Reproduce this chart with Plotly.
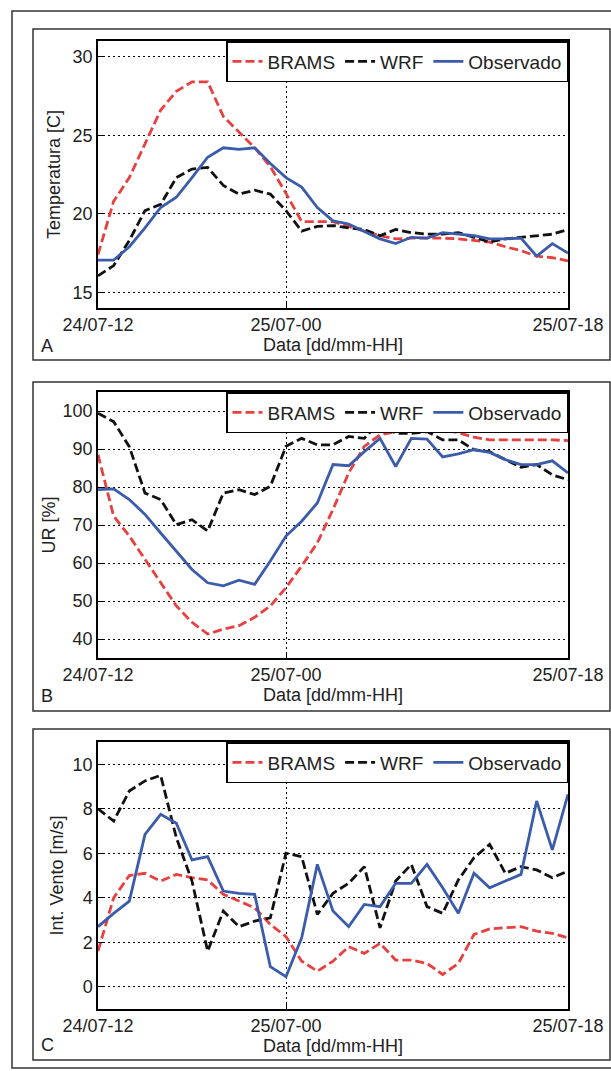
import plotly.graph_objects as go

# ---------------- data ----------------
hours = list(range(31))  # hours since 24/07-12
x_tickvals = [0, 12, 30]
x_ticktext = ["24/07-12", "25/07-00", "25/07-18"]
series_names = ["BRAMS", "WRF", "Observado"]

temp_brams = [17.4, 20.8, 22.3, 24.4, 26.6, 27.8, 28.4, 28.4, 26.2, 25.2, 24.2, 23.0, 21.3, 19.5, 19.5, 19.5,
              19.2, 18.9, 18.6, 18.4, 18.45, 18.45, 18.45, 18.4, 18.3, 18.2, 17.9, 17.65, 17.3, 17.2, 17.0]
temp_wrf = [16.05, 16.7, 18.3, 20.2, 20.6, 22.3, 22.85, 22.95, 21.8, 21.25, 21.5, 21.25, 20.2, 18.9, 19.2, 19.25,
            19.1, 19.0, 18.6, 19.0, 18.8, 18.7, 18.7, 18.8, 18.5, 18.2, 18.4, 18.5, 18.6, 18.7, 19.0]
temp_obs = [17.05, 17.05, 17.9, 19.1, 20.4, 21.05, 22.3, 23.6, 24.2, 24.1, 24.2, 23.2, 22.3, 21.7, 20.4, 19.55,
            19.35, 18.9, 18.4, 18.1, 18.5, 18.45, 18.8, 18.7, 18.6, 18.4, 18.4, 18.45, 17.3, 18.1, 17.5]

ur_brams = [88.5, 72.3, 67.1, 61.0, 54.8, 48.7, 44.4, 41.3, 42.6, 43.5, 45.7, 48.7, 53.5, 59.2, 65.3, 74.1,
            83.7, 90.7, 93.7, 94.6, 95.2, 95.5, 95.0, 94.3, 93.1, 92.4, 92.4, 92.4, 92.4, 92.4, 92.2]
ur_wrf = [99.4, 97.2, 90.6, 78.4, 76.7, 70.1, 71.4, 68.4, 78.4, 79.3, 78.0, 80.2, 90.7, 92.8, 91.1, 91.1,
          93.3, 92.8, 97.2, 94.1, 94.1, 94.6, 92.4, 92.4, 89.8, 89.3, 87.2, 85.2, 85.9, 83.2, 81.9]
ur_obs = [79.3, 79.5, 76.7, 72.8, 67.9, 63.1, 58.3, 54.8, 54.0, 55.5, 54.4, 60.5, 67.1, 71.0, 75.8, 85.9,
          85.6, 89.3, 92.8, 85.4, 92.8, 92.6, 87.9, 88.7, 89.8, 89.1, 87.2, 85.9, 85.9, 86.9, 83.7]

vento_brams = [1.6, 4.0, 5.0, 5.1, 4.75, 5.05, 4.9, 4.8, 4.15, 3.85, 3.55, 2.8, 2.25, 1.15, 0.7, 1.15,
               1.8, 1.5, 1.95, 1.2, 1.2, 1.05, 0.55, 1.05, 2.35, 2.6, 2.65, 2.7, 2.5, 2.4, 2.2]
vento_wrf = [8.0, 7.45, 8.8, 9.25, 9.5, 6.7, 4.75, 1.6, 3.4, 2.7, 2.95, 3.1, 6.0, 5.85, 3.25, 4.2,
             4.65, 5.4, 2.65, 4.75, 5.5, 3.6, 3.3, 4.8, 5.8, 6.4, 5.1, 5.4, 5.25, 4.9, 5.2]
vento_obs = [2.7, 3.3, 3.85, 6.85, 7.75, 7.35, 5.7, 5.85, 4.3, 4.2, 4.15, 0.9, 0.45, 2.2, 5.5, 3.4,
             2.7, 3.7, 3.6, 4.65, 4.65, 5.5, 4.45, 3.3, 5.1, 4.45, 4.75, 5.05, 8.35, 6.15, 8.65]

temp_ticks = [15, 20, 25, 30]
ur_ticks = [40, 50, 60, 70, 80, 90, 100]
vento_ticks = [0, 2, 4, 6, 8, 10]

# ---------------- styling ----------------
W, H = 611, 1071
ML, MR, MT, MB = 98, 43, 41, 62
PW, PH = W - ML - MR, H - MT - MB
FONT = "Liberation Sans, Arial, sans-serif"
TXT = "#222222"
colors = ["#e8403f", "#111111", "#3b5cab"]
dashes = ["9px,4px", "9px,4px", "solid"]


def fx(pix):
    """pixel x -> paper x"""
    return (pix - ML) / PW


def fy(pix):
    """pixel y (from top) -> paper y"""
    return (H - MB - pix) / PH


panels = [
    dict(ytop=41, ybot=308, ys=[temp_brams, temp_wrf, temp_obs], yrange=[14, 31], ticks=temp_ticks,
         title="Temperatura [C]", standoff=7, label="A", box=(29, 360), label_y=346),
    dict(ytop=392, ybot=658, ys=[ur_brams, ur_wrf, ur_obs], yrange=[35, 105], ticks=ur_ticks,
         title="UR [%]", standoff=2, label="B", box=(382, 711), label_y=696),
    dict(ytop=742, ybot=1009, ys=[vento_brams, vento_wrf, vento_obs], yrange=[-1, 11], ticks=vento_ticks,
         title="Int. Vento [m/s]", standoff=4, label="C", box=(729, 1060), label_y=1045),
]

fig = go.Figure()
layout = dict(
    width=W, height=H, autosize=False,
    margin=dict(l=ML, r=MR, t=MT, b=MB, autoexpand=False),
    paper_bgcolor="white", plot_bgcolor="white",
    font=dict(family=FONT, size=18, color=TXT),
    shapes=[], annotations=[],
)

for i, p in enumerate(panels):
    n = "" if i == 0 else str(i + 1)
    leg = "legend" if i == 0 else f"legend{i + 1}"
    for name, yv, c, d in zip(series_names, p["ys"], colors, dashes):
        fig.add_trace(go.Scatter(
            x=hours, y=yv, name=name, mode="lines",
            line=dict(color=c, width=2.8, dash=d),
            xaxis=f"x{n}", yaxis=f"y{n}", legend=leg,
        ))
    ydom = [fy(p["ybot"]), fy(p["ytop"])]
    layout[f"xaxis{n}"] = dict(
        domain=[0, 1], anchor=f"y{n}", range=[0, 30], tickmode="array",
        tickvals=x_tickvals, ticktext=x_ticktext, ticks="inside", ticklen=5,
        tickcolor="black", showline=True, mirror=True, linecolor="black", linewidth=1.5,
        showgrid=True, gridcolor="black", gridwidth=1, griddash="2px,3px", zeroline=False,
        automargin=False, tickfont=dict(size=18, color=TXT),
        title=dict(text="Data [dd/mm-HH]", font=dict(size=18, color=TXT), standoff=2),
    )
    layout[f"yaxis{n}"] = dict(
        domain=ydom, anchor=f"x{n}", range=p["yrange"], tickmode="array",
        tickvals=p["ticks"], ticks="inside", ticklen=5, tickcolor="black",
        showline=True, mirror=True, linecolor="black", linewidth=1.5,
        showgrid=True, gridcolor="black", gridwidth=1, griddash="2px,3px", zeroline=False,
        automargin=False, tickfont=dict(size=18, color=TXT),
        title=dict(text=p["title"], font=dict(size=18, color=TXT), standoff=p["standoff"]),
    )
    layout[leg] = dict(
        orientation="h", x=1, xanchor="right", y=fy(p["ytop"]), yanchor="top",
        bgcolor="white", bordercolor="black", borderwidth=1.5,
        font=dict(size=19, color=TXT), itemwidth=30, tracegroupgap=0,
    )
    # panel frame
    layout["shapes"].append(dict(type="rect", xref="paper", yref="paper",
                                 x0=fx(33), x1=fx(610), y0=fy(p["box"][1]), y1=fy(p["box"][0]),
                                 line=dict(color="#333333", width=1.5)))
    layout["annotations"].append(dict(text=p["label"], xref="paper", yref="paper",
                                      x=fx(47), y=fy(p["label_y"]), xanchor="center", yanchor="middle",
                                      showarrow=False, font=dict(size=18, color=TXT)))

# outer frame
layout["shapes"].append(dict(type="rect", xref="paper", yref="paper",
                             x0=fx(12), x1=fx(625), y0=fy(1068), y1=fy(11),
                             line=dict(color="#333333", width=1.5)))

fig.update_layout(**layout)
fig.write_html("out.html", config={"displayModeBar": False},
               post_script="document.body.style.margin='0';document.body.style.overflow='hidden';")
